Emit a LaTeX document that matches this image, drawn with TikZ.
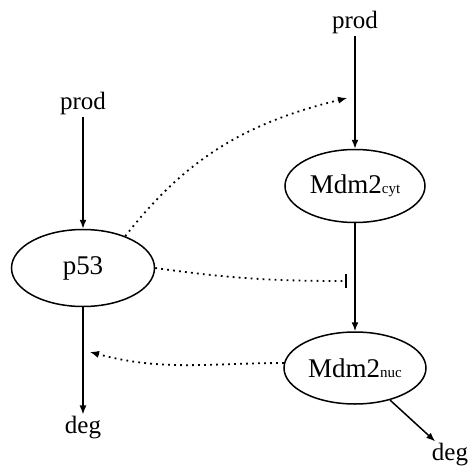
\documentclass[tikz,border=0pt]{standalone}
\usepackage{fontspec}
\setmainfont{Liberation Serif}
\usetikzlibrary{arrows.meta,shapes.geometric}
\newcommand{\subtxt}[1]{{\fontsize{15}{15}\selectfont #1}}
\tikzset{
  lbl/.style={font=\fontsize{25}{25}\selectfont, inner sep=2pt},
  species/.style={draw, ellipse, line width=1.5pt, inner sep=0pt, font=\fontsize{27}{27}\selectfont},
  flow/.style={line width=1.5pt, -{Latex[length=9pt,width=7pt]}},
  infl/.style={line width=1.8pt, dash pattern=on 1.8pt off 4.2pt, -{Latex[length=9pt,width=7pt,line width=1pt]}},
  inhib/.style={line width=1.8pt, dash pattern=on 1.8pt off 4.2pt, -{Bar[width=14pt,line width=1.8pt]}}
}
\begin{document}
\begin{tikzpicture}[x=1pt,y=-1pt]
\useasboundingbox (0,0) rectangle (469,466);
\node[lbl] (prod1) at (83,103) {prod};
\node[species, minimum width=143pt, minimum height=77pt] (p53) at (83,268) {p53};
\node[lbl] (deg1) at (83,428) {deg};
\node[lbl] (prod2) at (355,22) {prod};
\node[species, minimum width=140pt, minimum height=73pt] (cyt) at (355,186) {Mdm2\subtxt{cyt}};
\node[species, minimum width=142pt, minimum height=72pt] (nuc) at (355,368) {Mdm2\subtxt{nuc}};
\node[lbl] (deg2) at (450,455) {deg};
\coordinate (t1) at (347,98);
\coordinate (t2) at (347,281);
\coordinate (t3) at (90,352);
\draw[flow] (prod1) -- (p53);
\draw[flow] (p53) -- (deg1);
\draw[flow] (prod2) -- (cyt);
\draw[flow] (cyt) -- (nuc);
\draw[flow] (nuc) -- (deg2);
\draw[infl] (p53.37) to[out=52, in=194] (t1);
\draw[inhib] (p53.east) to[out=-8, in=180] (t2);
\draw[infl] (nuc.176) to[out=180, in=-15] (t3);
\end{tikzpicture}
\end{document}
